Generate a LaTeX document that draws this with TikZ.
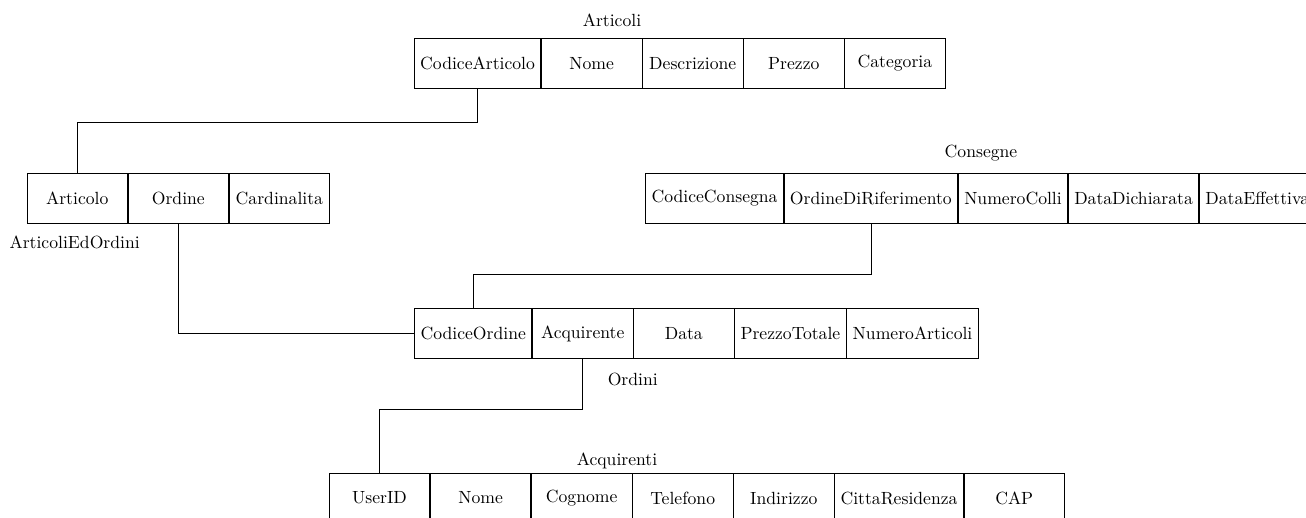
\documentclass[tikz,border=0pt]{standalone}
\usetikzlibrary{positioning}
\tikzset{
  cell/.style={draw, minimum width=2cm, minimum height=1cm, inner sep=.3333em},
  tlabel/.style={inner sep=0pt},
  link/.style={draw}
}
\begin{document}
\begin{tikzpicture}[x=0.567pt, y=-0.567pt]
\clip (0,0) rectangle (1306,518);

% Articoli
\node[tlabel] (lart) at (612,20) {Articoli};
\node[cell, anchor=west] (a1) at (414,63.3) {CodiceArticolo};
\node[cell, right=0pt of a1] (a2) {Nome};
\node[cell, right=0pt of a2] (a3) {Descrizione};
\node[cell, right=0pt of a3] (a4) {Prezzo};
\node[cell, right=0pt of a4] (a5) {Categoria};

% ArticoliEdOrdini
\node[cell, anchor=west] (ao1) at (26.7,198.3) {Articolo};
\node[cell, right=0pt of ao1] (ao2) {Ordine};
\node[cell, right=0pt of ao2] (ao3) {Cardinalita};
\node[tlabel] (lao) at (74.7,242) {ArticoliEdOrdini};

% Consegne
\node[tlabel] (lcon) at (981,153) {Consegne};
\node[cell, anchor=west] (c1) at (645.3,198.3) {CodiceConsegna};
\node[cell, right=0pt of c1] (c2) {OrdineDiRiferimento};
\node[cell, right=0pt of c2] (c3) {NumeroColli};
\node[cell, right=0pt of c3] (c4) {DataDichiarata};
\node[cell, right=0pt of c4] (c5) {DataEffettiva};

% Ordini
\node[cell, anchor=west] (o1) at (414.3,333.5) {CodiceOrdine};
\node[cell, right=0pt of o1] (o2) {Acquirente};
\node[cell, right=0pt of o2] (o3) {Data};
\node[cell, right=0pt of o3] (o4) {PrezzoTotale};
\node[cell, right=0pt of o4] (o5) {NumeroArticoli};
\node[tlabel] (lord) at (632.8,379) {Ordini};

% Acquirenti
\node[tlabel] (lacq) at (617,461) {Acquirenti};
\node[cell, anchor=west] (u1) at (329,498) {UserID};
\node[cell, right=0pt of u1] (u2) {Nome};
\node[cell, right=0pt of u2] (u3) {Cognome};
\node[cell, right=0pt of u3] (u4) {Telefono};
\node[cell, right=0pt of u4] (u5) {Indirizzo};
\node[cell, right=0pt of u5] (u6) {CittaResidenza};
\node[cell, right=0pt of u6] (u7) {CAP};

% connectors
\path[link] (a1.south) -- ++(0,33.7) -| (ao1.north);
\path[link] (ao2.south) |- (o1.west);
\path[link] (c2.south) -- ++(0,51) -| (o1.north);
\path[link] (o2.south) -- ++(0,50.6) -| (u1.north);
\end{tikzpicture}
\end{document}
